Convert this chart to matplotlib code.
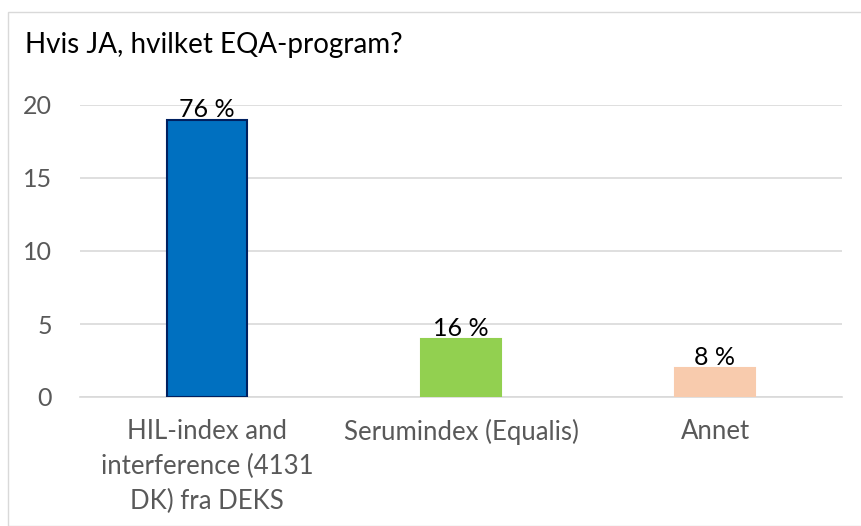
import matplotlib
matplotlib.use("Agg")
import matplotlib.pyplot as plt
from matplotlib.patches import Rectangle

categories = ["HIL-index and\ninterference (4131\nDK) fra DEKS", "Serumindex (Equalis)", "Annet"]
values = [19, 4, 2]
labels = ["76 %", "16 %", "8 %"]
colors = ["#0070C0", "#92D050", "#F8CBAD"]
edgecolors = ["#002060", "#92D050", "#F8CBAD"]
yticks = [0, 5, 10, 15, 20]
title = "Hvis JA, hvilket EQA-program?"

plt.rcParams['font.family'] = ['Lato', 'DejaVu Sans']

W, H = 861, 526
fig = plt.figure(figsize=(W/100, H/100), dpi=100)
fig.patches.append(Rectangle((8/W, 0), 1.2, (H-12)/H, transform=fig.transFigure,
                             fill=False, edgecolor="#D9D9D9", linewidth=1.0))

ax = fig.add_axes([80/W, 1-397/H, (842-80)/W, (397-105)/H])
x = list(range(len(categories)))
ax.bar(x, values, width=0.315, color=colors, edgecolor=edgecolors, linewidth=1.5, zorder=3)
for xi, v, lab in zip(x, values, labels):
    ax.text(xi, v - 0.1, lab, ha="center", va="bottom", fontsize=18, color="black", zorder=4)

ax.set_xlim(-0.5, 2.5)
ax.set_ylim(0, 20)
ax.set_yticks(yticks)
ax.set_xticks(x)
ax.set_xticklabels(categories, fontsize=18.5, color="#595959", linespacing=1.5)
ax.tick_params(axis="y", labelsize=18, labelcolor="#595959", length=0, pad=20)
ax.tick_params(axis="x", length=0, pad=16)
ax.grid(axis="y", color="#D9D9D9", linewidth=1.2, zorder=0)
for s in ["top", "right", "left"]:
    ax.spines[s].set_visible(False)
ax.spines["bottom"].set_color("#D9D9D9")
ax.spines["bottom"].set_linewidth(1.2)

fig.text(25/W, 1-45/H, title, fontsize=20, color="black", va="center", ha="left")

fig.savefig("out.png", dpi=100)
